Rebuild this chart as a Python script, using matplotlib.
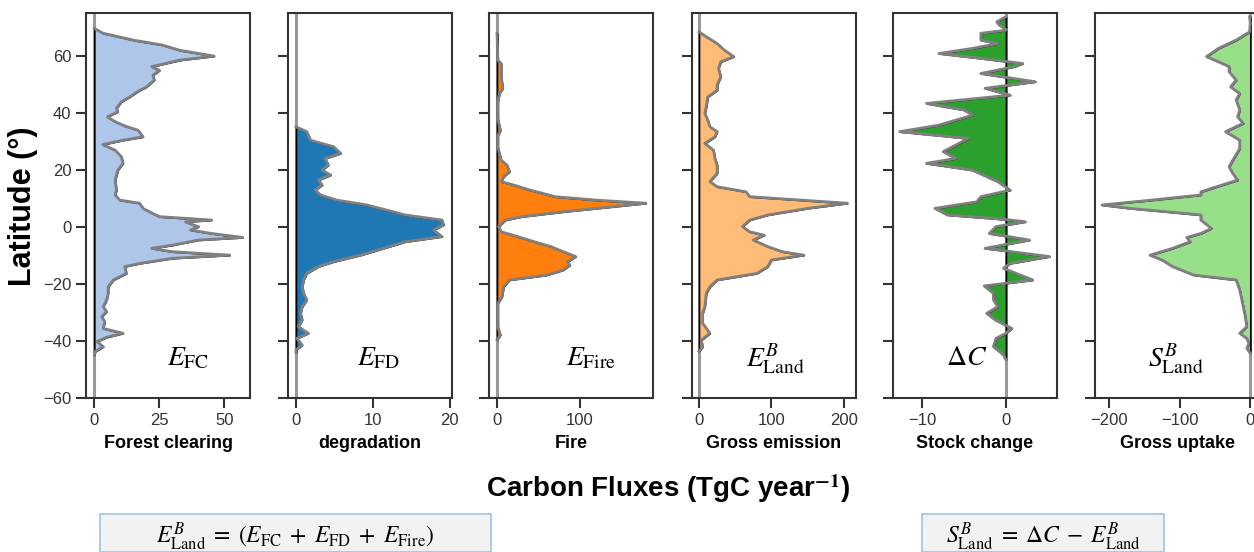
import matplotlib
matplotlib.use("Agg")
import matplotlib.pyplot as plt
from matplotlib.patches import Rectangle

plt.rcParams['font.family'] = ['Liberation Sans', 'DejaVu Sans']
plt.rcParams['mathtext.fontset'] = 'stix'

# ---------------- data ----------------
lat_fc = [69.7, 68, 65.6, 63.9, 62, 60, 58.6, 56.3, 55, 53.3, 51.6, 49.2, 48, 45.7, 44, 41.7, 40.5,
          38.7, 37, 35.5, 34, 31.7, 30.5, 29, 27, 24.7, 22.4, 20, 16.5, 13, 11.3, 9.5, 8.4, 6.6, 4.8,
          3.7, 2.5, 1.9, 0.8, 0.2, -1, -2.2, -3.6, -4.5, -6.3, -7.4, -8.6, -9.8, -10.9, -12.7, -13.8,
          -16.2, -18.5, -20.9, -23.2, -25.5, -27.9, -29.6, -31.4, -33.1, -35.5, -37.2, -38.6, -40.1,
          -41.9, -43.6, -44.8]
forest_clearing = [0, 3.4, 15, 26, 33, 46, 33, 22, 25, 22.5, 23, 20, 17.4, 13.6, 10.4, 8.5, 9,
                   5, 8, 11.7, 16.8, 18.7, 11, 3.2, 8, 10.4, 11, 9, 8, 8.5, 8, 9.8, 17.4, 18.7, 22.5,
                   25, 45, 35, 38, 40, 37, 45, 57, 40, 30, 22, 30, 52, 30, 17.4, 11.7,
                   12.3, 7.3, 5.3, 5.3, 4.7, 3.4, 4.7, 2.8, 4, 3.4, 11, 4.7, 1,
                   3.4, 0.3, 0]

lat_fd = [35.2, 33.5, 30.5, 28.2, 25.9, 24.1, 21.8, 20, 18.3, 16.5, 14.8, 13, 11.3, 9.5, 7.8, 6,
          4.3, 2.5, 0.8, -1, -3.3, -5.1, -7.4, -9.8, -12.1, -13.8, -16.2, -18.5, -20.9, -23.2,
          -25.5, -27.9, -30.2, -32.5, -34.9, -37.2, -39, -41.3, -43, -44]
degradation = [0, 1.4, 1.9, 4.9, 5.8, 3.8, 4.2, 3.4, 4.5, 2.9, 3.4, 2.5, 3.2, 5.3, 9.2, 11.8,
               14.2, 19, 19.2, 17.9, 19, 14.2, 11.4, 8.4, 4.9, 2.9, 1.4, 1, 0.8, 1,
               1.4, 0.8, 0.6, 0.8, 0.3, 1.6, 0.1, 0.8, 0, 0]

lat_fire = [68, 58.5, 57.4, 55, 52.8, 48.7, 47, 44, 38, 34, 32, 28, 23.5, 21.8, 19.5, 17.7, 16,
            14.8, 13, 11.9, 10.7, 9.5, 8.4, 7.2, 5.4, 3.7, 2.5, 0.2, -1.6, -3.3, -5.1, -6.8, -8,
            -10.3, -12.1, -13.3, -15, -16.8, -18.5, -20.9, -24.3, -26.7, -30, -35, -37.8, -39.5]
fire = [0, 1, 5, 5, 5, 7, 3, 1, 1, 4, 1, 1, 5, 12, 15, 8, 5,
        20, 40, 55, 70, 120, 180, 140, 80, 30, 10, 2, 5, 25, 45, 65, 75,
        95, 85, 88, 80, 60, 15, 8, 6, 1, 1, 1, 4, 0]

lat_ge = [68.5, 66.8, 64.4, 62.1, 59.8, 58, 55.7, 52.8, 49.8, 48, 45.7, 42.2, 39.9, 37.6, 35.2,
          33.5, 31.7, 29.4, 27, 24.1, 21.8, 18.9, 16, 14.2, 12.4, 10.7, 8.4, 6.6, 4.3, 2.5, 0.2,
          -1.6, -2.8, -4.5, -6.8, -8.6, -9.8, -11.5, -13.8, -16.2, -18.5, -20.9, -23.2, -27.9,
          -30.2, -33.7, -37.2, -39.6, -41.9, -43.5]
gross_emission = [0, 10, 25, 35, 48, 30, 27, 30, 25, 25, 12, 10, 8, 12, 15,
                  25, 22, 8, 20, 22, 25, 25, 15, 25, 65, 70, 205, 150, 95, 70, 60,
                  70, 90, 75, 95, 115, 145, 100, 95, 80, 25, 15, 10, 8,
                  5, 5, 15, 3, 5, 0]

lat_sc = [73.8, 72, 70.9, 69.1, 68, 65.6, 64.4, 62.7, 60.9, 59.2, 57.4, 56.3, 53.9, 51, 48.7,
          46.3, 43.4, 41.1, 39.3, 35.8, 33.5, 31.1, 28.8, 26.5, 24.1, 22.4, 20, 16, 13, 10.7,
          8.9, 6.6, 4.3, 2.7, 1.9, 0.2, -2.2, -4.5, -7.4, -10.3, -12.7, -14.4, -18.5, -20.6,
          -23.2, -25.5, -27.9, -30.2, -32.5, -35.5, -37.2, -39, -41.9, -44.8, -46.5]
stock_change = [0, -1.1, -0.8, 0.1, -3, -3, -1, -4, -8, -3, 2, 1, -3, 3.5, -2.5,
                0.5, -9.5, -5, -4, -8, -12.7, -4.5, -6, -7.5, -6, -9.5, -4, -1, 0.5, -3,
                -3.5, -8.5, -7, 0, 2.3, -1.2, -2, 2.8, -2.5, 5.2, 0.5, -0.3, 3.2, -2.6,
                -1.5, -1.5, -1, -2.3, -1.3, 0.7, 0, -1.2, -1.5, -0.3, 0]

lat_gu = [73.8, 71.5, 68.5, 65.6, 62.7, 59.8, 58, 56.3, 54.5, 51.6, 49.2, 46.9, 44.6, 41.1, 38.7,
          36.4, 33.5, 30.5, 27.6, 24.7, 21.2, 18.9, 16.5, 14.8, 12.4, 11.3, 9.5, 7.8, 6.6, 4.3,
          2.5, -0.4, -2.2, -3.6, -5.1, -7.4, -9.8, -11.5, -13.8, -16.8, -18.5, -22, -25.5,
          -30.2, -34.9, -37.2, -39, -40.8, -42.5, -44.2]
gross_uptake = [-1, 0, -1, -20, -45, -62, -45, -30, -30, -20, -28, -15, -20, -15, -18,
                -10, -35, -15, -15, -22, -30, -25, -18, -40, -70, -70, -140, -210, -170, -70,
                -70, -55, -70, -90, -85, -110, -142, -125, -110, -80, -20, -15, -12,
                -8, -5, -15, -5, -2, -5, 0]

panel_lats = [lat_fc, lat_fd, lat_fire, lat_ge, lat_sc, lat_gu]
panel_vals = [forest_clearing, degradation, fire, gross_emission, stock_change, gross_uptake]
panel_xlabels = ['Forest clearing', 'degradation', 'Fire', 'Gross emission', 'Stock change', 'Gross uptake']
panel_symbols = [r'$E_{\mathrm{FC}}$', r'$E_{\mathrm{FD}}$', r'$E_{\mathrm{Fire}}$',
                 r'$E_{\mathrm{Land}}^{B}$', r'$\Delta C$', r'$S_{\mathrm{Land}}^{B}$']
panel_colors = ['#aec7e8', '#1f77b4', '#ff7f0e', '#ffbb78', '#2ca02c', '#98df8a']
panel_xlims = [(-3.2, 59.8), (-1.04, 20.3), (-9.7, 188.6), (-9.7, 217), (-13.5, 6.1), (-219.8, 12.3)]
panel_xticks = [[0, 25, 50], [0, 10, 20], [0, 100], [0, 100, 200], [-10, 0], [-200, -100, 0]]
yticks = [-60, -40, -20, 0, 20, 40, 60]

# ---------------- layout ----------------
W, H = 1254, 552
fig = plt.figure(figsize=(W / 100, H / 100), dpi=100)
lefts_px = [86, 288, 489, 692, 893, 1095]
panel_w = 164
top_px, bot_px = 13.3, 398.3
sym_x = [0.62, 0.55, 0.62, 0.51, 0.45, 0.49]
spine_c = '#333333'

for i in range(6):
    ax = fig.add_axes([lefts_px[i] / W, 1 - bot_px / H, panel_w / W, (bot_px - top_px) / H])
    ax.axvline(0, color='#999999', lw=2.2, zorder=1)
    ax.fill_betweenx(panel_lats[i], 0, panel_vals[i], facecolor=panel_colors[i],
                     edgecolor='black', linewidth=1.2, zorder=2)
    ax.plot(panel_vals[i], panel_lats[i], color='#808080', lw=2, zorder=3)
    ax.set_xlim(*panel_xlims[i])
    ax.set_ylim(-60, 75)
    ax.set_xticks(panel_xticks[i])
    ax.set_xticklabels([str(t).replace('-', '\u2212') for t in panel_xticks[i]])
    ax.set_yticks(yticks)
    if i == 0:
        ax.set_yticklabels([str(t).replace('-', '\u2212') for t in yticks])
        ax.set_ylabel('Latitude (°)', fontsize=22, fontweight='bold')
        ax.yaxis.set_label_coords(-48 / panel_w, 0.5)
    else:
        ax.set_yticklabels([])
    ax.tick_params(axis='both', direction='out', length=7, width=1.5, colors=spine_c,
                   labelsize=12, labelcolor='#333333', pad=3.5)
    for s in ax.spines.values():
        s.set_color(spine_c)
        s.set_linewidth(1.5)
    ax.set_xlabel(panel_xlabels[i], fontsize=13, fontweight='bold', labelpad=5)
    ax.text(sym_x[i], 0.104, panel_symbols[i], transform=ax.transAxes, fontsize=20,
            ha='center', va='center')

fig.text(668 / W, 1 - 489 / H, 'Carbon Fluxes (TgC year$^{\\mathbf{-1}}$)', fontsize=20,
         fontweight='bold', ha='center', va='center')

# formula boxes
for (x0, x1, txt, xc) in [(100, 491, r'$E_{\mathrm{Land}}^{B}\;=\;(E_{\mathrm{FC}}\;+\;E_{\mathrm{FD}}\;+\;E_{\mathrm{Fire}})$', 295),
                          (922, 1164, r'$S_{\mathrm{Land}}^{B}\;=\;\Delta C\;-\;E_{\mathrm{Land}}^{B}$', 1043)]:
    rect = Rectangle((x0 / W, 0), (x1 - x0) / W, (H - 514) / H, transform=fig.transFigure,
                     facecolor='#f2f2f2', edgecolor='#9fc1e6', linewidth=1.2)
    fig.patches.append(rect)
    fig.text(xc / W, 1 - 537 / H, txt, fontsize=17, ha='center', va='center')

fig.savefig('out.png', dpi=100)
